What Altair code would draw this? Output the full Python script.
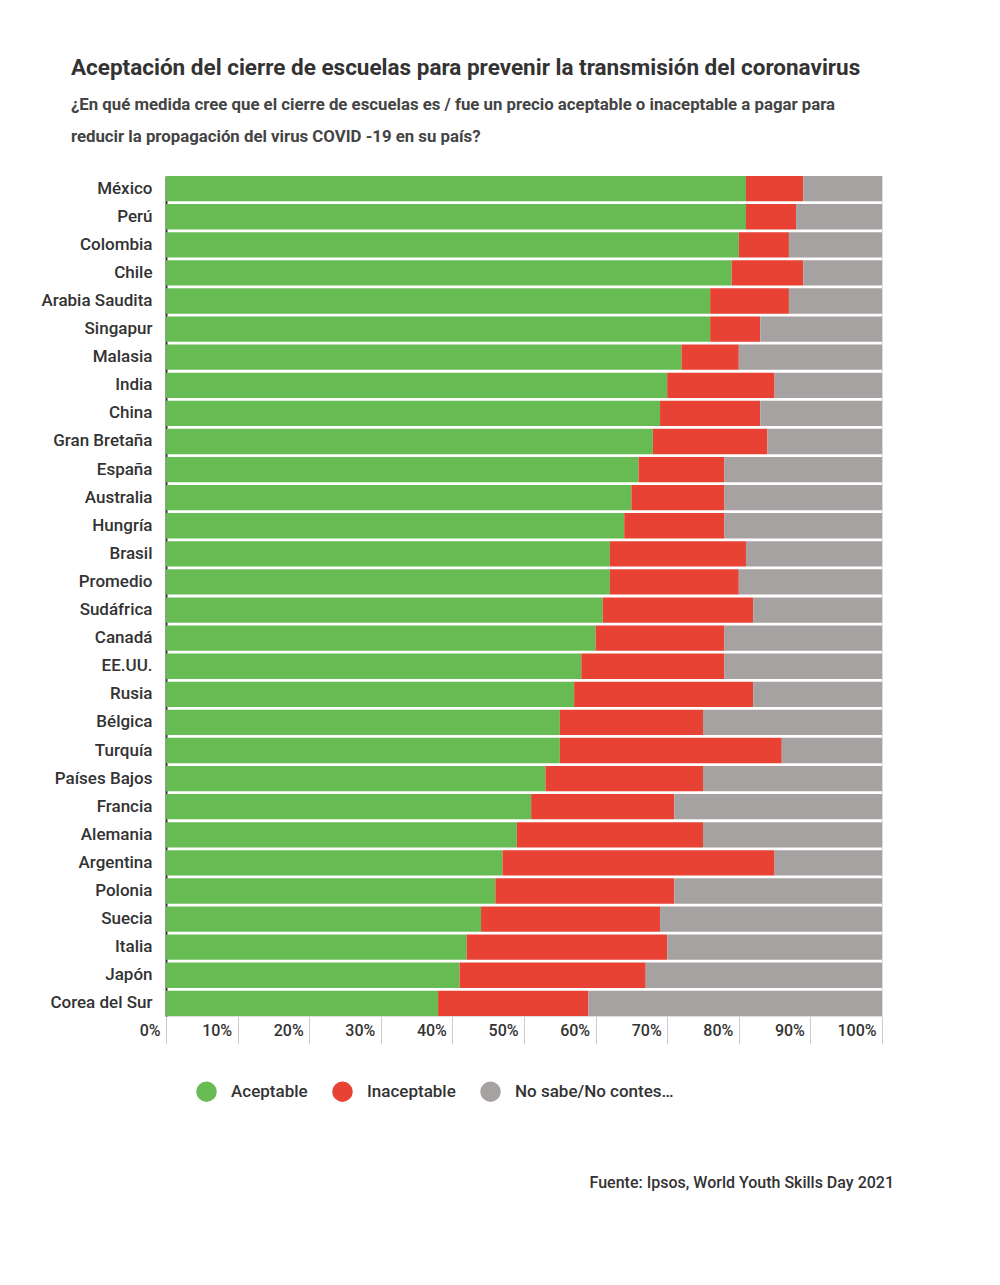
import pandas as pd
import altair as alt

paises = ["México", "Perú", "Colombia", "Chile", "Arabia Saudita", "Singapur", "Malasia",
          "India", "China", "Gran Bretaña", "España", "Australia", "Hungría", "Brasil",
          "Promedio", "Sudáfrica", "Canadá", "EE.UU.", "Rusia", "Bélgica", "Turquía",
          "Países Bajos", "Francia", "Alemania", "Argentina", "Polonia", "Suecia",
          "Italia", "Japón", "Corea del Sur"]
aceptable = [81, 81, 80, 79, 76, 76, 72, 70, 69, 68, 66, 65, 64, 62, 62, 61, 60, 58,
             57, 55, 55, 53, 51, 49, 47, 46, 44, 42, 41, 38]
inaceptable = [8, 7, 7, 10, 11, 7, 8, 15, 14, 16, 12, 13, 14, 19, 18, 21, 18, 20,
               25, 20, 31, 22, 20, 26, 38, 25, 25, 28, 26, 21]
categorias = ["Aceptable", "Inaceptable", "No sabe/No contestó"]
colores = ["#66bb52", "#e84234", "#a6a2a2"]

rows = []
for p, a, i in zip(paises, aceptable, inaceptable):
    for k, (cat, v) in enumerate(zip(categorias, [a, i, 100 - a - i])):
        rows.append({"pais": p, "cat": cat, "valor": v / 100, "orden": k})
df = pd.DataFrame(rows)

bars = alt.Chart(df).mark_bar().encode(
    y=alt.Y("pais:N", sort=paises, title=None,
            scale=alt.Scale(paddingInner=0.1, paddingOuter=0),
            axis=alt.Axis(domainColor="#333", domainWidth=2, ticks=False,
                          labelFontSize=17, labelFontWeight=500, labelColor="#333",
                          labelPadding=14)),
    x=alt.X("valor:Q", stack="zero", title=None,
            scale=alt.Scale(domain=[0, 1], nice=False),
            axis=alt.Axis(format="%", values=[i / 10 for i in range(11)], grid=False,
                          domain=False, tickSize=28, tickColor="#ccc",
                          labelAlign="right", labelBaseline="middle", labelPadding=-14,
                          labelOffset=-6, labelFontSize=16, labelFontWeight=500,
                          labelColor="#333")),
    color=alt.Color("cat:N", sort=categorias,
                    scale=alt.Scale(domain=categorias, range=colores),
                    legend=alt.Legend(title=None, orient="none", direction="horizontal",
                                      legendX=30, legendY=905, symbolType="circle",
                                      symbolSize=420, labelFontSize=17, labelFontWeight=500,
                                      labelColor="#333", labelOffset=14,
                                      columnPadding=24, symbolStrokeWidth=0)),
    order=alt.Order("orden:Q"),
)

fuente = alt.Chart(pd.DataFrame({"t": ["Fuente: Ipsos, World Youth Skills Day 2021"]})).mark_text(
    align="right", fontSize=16, fontWeight=500, color="#333", font="Roboto"
).encode(text="t:N", x=alt.value(728), y=alt.value(1007))

chart = alt.layer(bars, fuente).properties(
    width=716, height=840,
    title=alt.TitleParams(
        "Aceptación del cierre de escuelas para prevenir la transmisión del coronavirus",
        subtitle=["¿En qué medida cree que el cierre de escuelas es / fue un precio aceptable o inaceptable a pagar para",
                  "reducir la propagación del virus COVID -19 en su país?"],
        anchor="start", frame="bounds", dx=30, fontSize=22.5, color="#333",
        subtitleFontSize=16.8, subtitleFontWeight="bold", subtitleColor="#444",
        subtitleLineHeight=32, subtitlePadding=18, offset=30, font="Roboto",
        subtitleFont="Roboto"),
    padding={"left": 32, "top": 48, "right": 90, "bottom": 60},
).configure_view(stroke=None).configure(font="Roboto")

chart.save("out.html", embed_options={"renderer": "svg", "actions": False})
